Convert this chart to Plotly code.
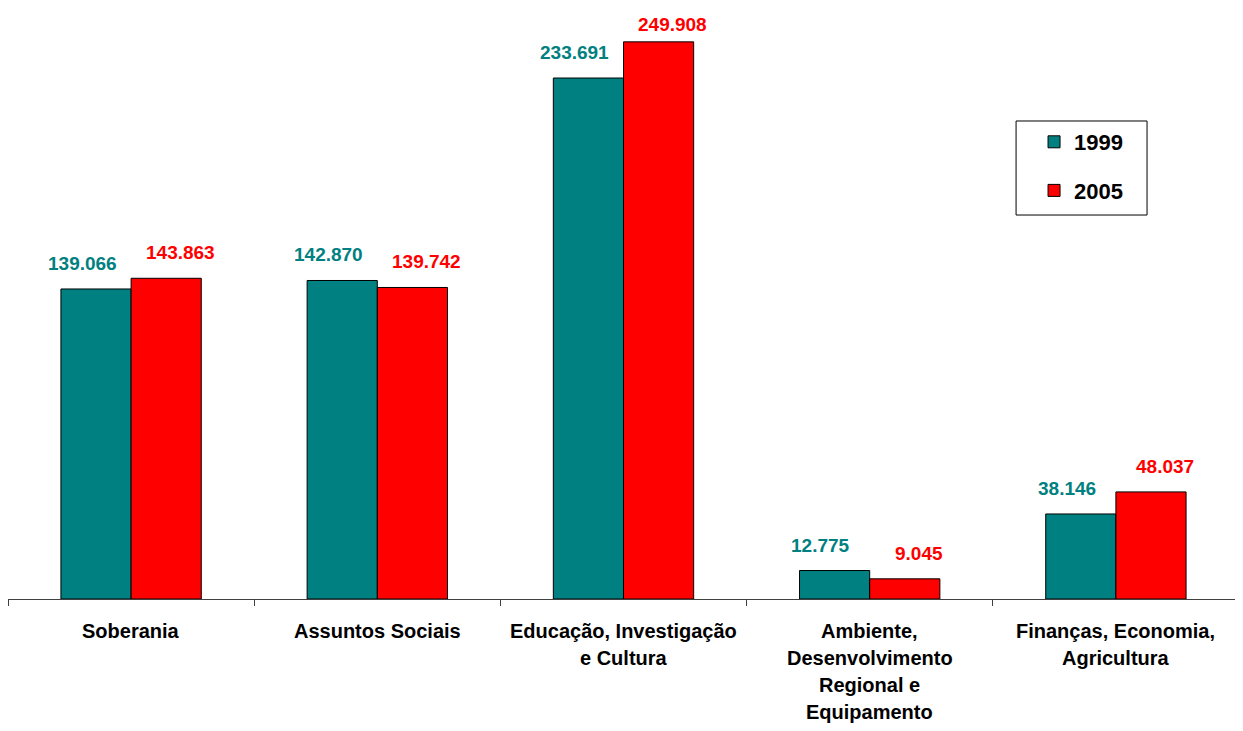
import plotly.graph_objects as go

categories = ["Soberania", "Assuntos Sociais", "Educação, Investigação e Cultura",
              "Ambiente, Desenvolvimento Regional e Equipamento",
              "Finanças, Economia, Agricultura"]
label_lines = [["Soberania"],
               ["Assuntos Sociais"],
               ["Educação, Investigação", "e Cultura"],
               ["Ambiente,", "Desenvolvimento", "Regional e", "Equipamento"],
               ["Finanças, Economia,", "Agricultura"]]
values_1999 = [139.066, 142.870, 233.691, 12.775, 38.146]
values_2005 = [143.863, 139.742, 249.908, 9.045, 48.037]

teal = "#008080"
red = "#FF0000"
font = "Liberation Sans, Arial, sans-serif"
y_max = 265.1

fig = go.Figure()
fig.add_trace(go.Bar(x=categories, y=values_1999, name="1999", legendgroup="a",
                     marker=dict(color=teal, line=dict(color="black", width=1))))
fig.add_trace(go.Bar(x=categories, y=values_2005, name="2005", legendgroup="b",
                     marker=dict(color=red, line=dict(color="black", width=1))))

annotations = []
# value labels above the bars (squeezed a bit when close to the top)
for cat, v1, v2 in zip(categories, values_1999, values_2005):
    for v, col, dx in [(v1, teal, -49), (v2, red, 49)]:
        dy = 13 if v < 0.9 * y_max else 5
        annotations.append(dict(x=cat, y=v, xref="x", yref="y",
                                text="%.3f" % v, showarrow=False,
                                xshift=dx, yshift=dy, yanchor="bottom",
                                font=dict(family=font, size=19, color=col, weight="bold")))
# category labels, one annotation per line
for cat, lines in zip(categories, label_lines):
    for i, line in enumerate(lines):
        annotations.append(dict(x=cat, y=0, xref="x", yref="paper",
                                text=line, showarrow=False,
                                yanchor="middle", yshift=-32 - 27 * i,
                                font=dict(family=font, size=20, color="black", weight="bold")))

fig.update_layout(
    width=1235, height=723,
    margin=dict(l=0, r=4, t=0, b=132),
    paper_bgcolor="white", plot_bgcolor="white",
    barmode="group", bargap=0.43, bargroupgap=0,
    showlegend=True,
    legend=dict(x=0.8335, y=0.8088, xanchor="left", yanchor="top",
                borderwidth=0, bgcolor="rgba(0,0,0,0)",
                tracegroupgap=17,
                font=dict(family=font, size=22, color="black", weight="bold")),
    shapes=[dict(type="rect", xref="paper", yref="paper",
                 x0=0.8189, x1=0.9253, y0=0.6497, y1=0.8088,
                 line=dict(color="black", width=1), layer="below")],
    xaxis=dict(showline=True, linecolor="#404040", linewidth=1,
               ticks="outside", tickson="boundaries", ticklen=6, tickcolor="#404040",
               showticklabels=False, showgrid=False),
    yaxis=dict(visible=False, range=[0, y_max], showgrid=False),
    annotations=annotations,
)

fig.write_html("out.html")
